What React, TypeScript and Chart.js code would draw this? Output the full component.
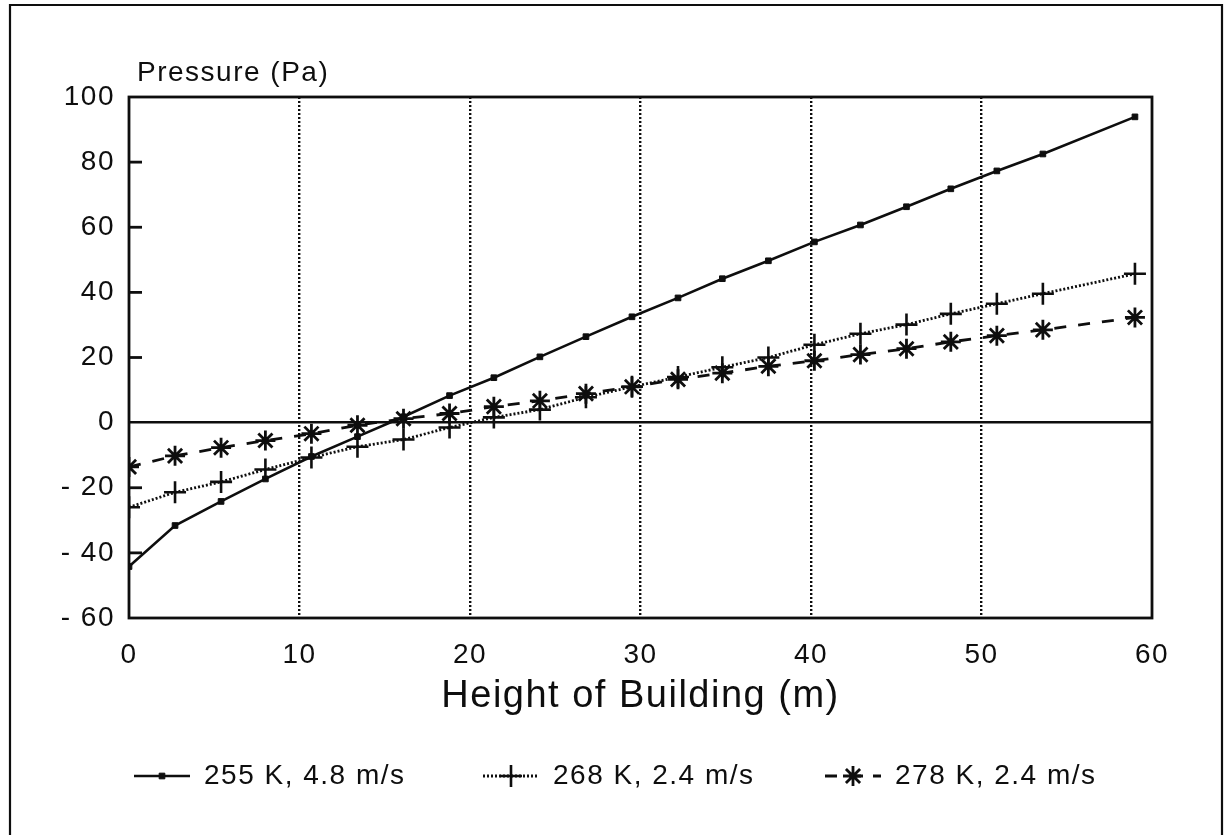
import React, { useEffect, useRef } from "react";
import { Chart, registerables } from "chart.js";
import { drawPoint } from "chart.js/helpers";

Chart.register(...registerables);

// ---- data ----
const heights = [0, 2.7, 5.4, 8.0, 10.7, 13.4, 16.1, 18.8, 21.4, 24.1, 26.8, 29.5, 32.2, 34.8, 37.5, 40.2, 42.9, 45.6, 48.2, 50.9, 53.6, 59.0];
const p255 = [-44.2, -31.6, -24.2, -17.3, -10.4, -4.3, 1.8, 8.3, 13.8, 20.2, 26.4, 32.5, 38.3, 44.2, 49.7, 55.5, 60.7, 66.3, 71.8, 77.3, 82.5, 93.9];
const p268 = [-26.0, -21.4, -18.2, -14.4, -10.7, -7.4, -5.2, -1.5, 1.6, 4.0, 7.8, 11.0, 14.0, 17.0, 20.0, 23.9, 27.3, 30.1, 33.4, 36.5, 39.6, 45.7];
const p278 = [-13.6, -10.2, -7.7, -5.5, -3.4, -0.8, 1.2, 2.8, 4.9, 6.7, 8.9, 11.0, 13.3, 15.2, 17.3, 19.0, 20.9, 22.7, 24.8, 26.7, 28.5, 32.3];
const seriesLabels = ["255 K, 4.8 m/s", "268 K, 2.4 m/s", "278 K, 2.4 m/s"];
const xMin = 0, xMax = 60, xStep = 10;
const yMin = -60, yMax = 100, yStep = 20;
const xTitle = "Height of Building (m)";
const yTitle = "Pressure (Pa)";

const INK = "#0e0e0e";
const FONT = "'Liberation Sans', Arial, sans-serif";
const SPACING = "1.5px";

const toPoints = (ys: number[]) => heights.map((h, i) => ({ x: h, y: ys[i] }));

const spacingPlugin = {
  id: "spacing",
  beforeUpdate(chart: any) { chart.ctx.letterSpacing = SPACING; },
  beforeDraw(chart: any) {
    const ctx = chart.ctx;
    ctx.letterSpacing = SPACING;
    ctx.save();
    ctx.fillStyle = "#ffffff";
    ctx.fillRect(0, 0, chart.width, chart.height);
    ctx.restore();
  },
};

const boxPlugin = {
  id: "plotBox",
  beforeDatasetsDraw(chart: any) {
    const { ctx, chartArea } = chart;
    const { left, right, top, bottom } = chartArea;
    ctx.save();
    ctx.strokeStyle = INK;
    ctx.lineWidth = 2.8;
    ctx.setLineDash([]);
    ctx.strokeRect(left, top, right - left, bottom - top);
    const ys = chart.scales.y;
    ys.ticks.forEach((t: any) => {
      if (t.value > ys.min && t.value < ys.max && t.value !== 0) {
        const py = ys.getPixelForValue(t.value);
        ctx.beginPath();
        ctx.moveTo(left, py);
        ctx.lineTo(left + 13, py);
        ctx.stroke();
      }
    });
    ctx.restore();
  },
};

const decorPlugin = {
  id: "decor",
  afterDraw(chart: any) {
    const { ctx, chartArea } = chart;
    ctx.save();
    ctx.letterSpacing = SPACING;
    // outer frame
    ctx.strokeStyle = INK;
    ctx.lineWidth = 2.2;
    ctx.beginPath();
    ctx.moveTo(10, chart.height + 5);
    ctx.lineTo(10, 5);
    ctx.lineTo(1222, 5);
    ctx.lineTo(1222, chart.height + 5);
    ctx.stroke();
    // y axis title
    ctx.fillStyle = INK;
    ctx.font = `28px ${FONT}`;
    ctx.textBaseline = "middle";
    ctx.textAlign = "left";
    ctx.fillText(yTitle, chartArea.left + 8, 73);
    // legend
    const starts = [134, 483, 825];
    const yc = 776;
    chart.data.datasets.forEach((ds: any, i: number) => {
      const x0 = starts[i];
      ctx.save();
      ctx.strokeStyle = ds.borderColor;
      ctx.fillStyle = ds.borderColor;
      ctx.lineWidth = ds.borderWidth;
      ctx.setLineDash(ds.borderDash || []);
      ctx.beginPath();
      ctx.moveTo(x0, yc);
      ctx.lineTo(x0 + 56, yc);
      ctx.stroke();
      ctx.setLineDash([]);
      ctx.lineWidth = ds.pointBorderWidth;
      drawPoint(ctx, { pointStyle: ds.pointStyle, rotation: 0, radius: ds.pointRadius, borderWidth: ds.pointBorderWidth }, x0 + 28, yc);
      ctx.restore();
      ctx.fillStyle = INK;
      ctx.font = `28px ${FONT}`;
      ctx.textAlign = "left";
      ctx.textBaseline = "middle";
      ctx.fillText(ds.label, x0 + 70, yc);
    });
    ctx.restore();
  },
};

export default function App() {
  const canvasRef = useRef<HTMLCanvasElement | null>(null);

  useEffect(() => {
    if (!canvasRef.current) return;
    const chart = new Chart(canvasRef.current, {
      type: "line",
      data: {
        datasets: [
          {
            label: seriesLabels[0],
            data: toPoints(p255),
            borderColor: INK,
            backgroundColor: INK,
            borderWidth: 2.6,
            borderDash: [],
            pointStyle: "rect",
            pointRadius: 4,
            pointBorderWidth: 1,
            pointBackgroundColor: INK,
            pointBorderColor: INK,
            tension: 0,
            fill: false,
          },
          {
            label: seriesLabels[1],
            data: toPoints(p268),
            borderColor: INK,
            backgroundColor: INK,
            borderWidth: 2.8,
            borderDash: [2, 2],
            pointStyle: "cross",
            pointRadius: 11,
            pointBorderWidth: 2.6,
            pointBackgroundColor: INK,
            pointBorderColor: INK,
            tension: 0,
            fill: false,
          },
          {
            label: seriesLabels[2],
            data: toPoints(p278),
            borderColor: INK,
            backgroundColor: INK,
            borderWidth: 2.8,
            borderDash: [12, 12],
            pointStyle: "star",
            pointRadius: 10,
            pointBorderWidth: 2.8,
            pointBackgroundColor: INK,
            pointBorderColor: INK,
            tension: 0,
            fill: false,
          },
        ],
      },
      options: {
        animation: false,
        responsive: false,
        devicePixelRatio: 1,
        layout: { padding: { left: 11, right: 72, top: 97, bottom: 100 } },
        plugins: {
          legend: { display: false },
          tooltip: { enabled: false },
          title: { display: false },
        },
        scales: {
          x: {
            type: "linear",
            min: xMin,
            max: xMax,
            ticks: {
              stepSize: xStep,
              color: INK,
              padding: 20,
              maxRotation: 0,
              font: { family: FONT, size: 28 },
            },
            grid: {
              drawTicks: false,
              lineWidth: 2.4,
              color: (c: any) => (c.tick && c.tick.value > xMin && c.tick.value < xMax ? INK : "transparent"),
            },
            border: { display: false, dash: [2, 2] },
            title: {
              display: true,
              text: xTitle,
              color: INK,
              font: { family: FONT, size: 38 },
              padding: { top: 0, bottom: 16 },
            },
            afterFit: (s: any) => { s.height = 117; },
          },
          y: {
            type: "linear",
            min: yMin,
            max: yMax,
            ticks: {
              stepSize: yStep,
              color: INK,
              padding: 14,
              font: { family: FONT, size: 28 },
              callback: (v: any) => (Number(v) < 0 ? "- " + Math.abs(Number(v)) : String(v)),
            },
            grid: {
              drawTicks: false,
              lineWidth: 2.6,
              color: (c: any) => (c.tick && c.tick.value === 0 ? INK : "transparent"),
            },
            border: { display: false, dash: [] },
            afterFit: (s: any) => { s.width = 118; },
          },
        },
      },
      plugins: [spacingPlugin, boxPlugin, decorPlugin],
    } as any);
    return () => chart.destroy();
  }, []);

  return (
    <div style={{ position: "absolute", left: 0, top: 0, width: 1224, height: 835, background: "#fff" }}>
      <canvas ref={canvasRef} width={1224} height={835} style={{ display: "block", width: 1224, height: 835 }} />
    </div>
  );
}
